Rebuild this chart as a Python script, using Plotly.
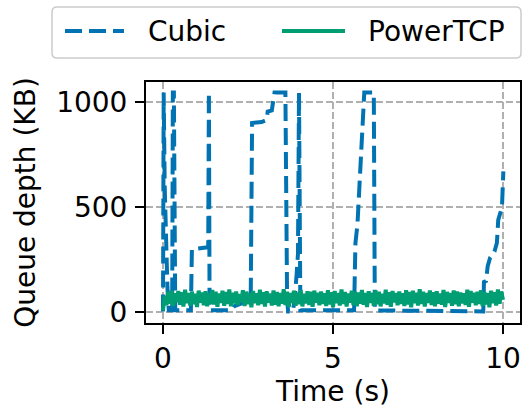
import plotly.graph_objects as go

# ---- data ----
cubic_t = [0.00, 0.02, 0.05, 0.09, 0.13, 0.17, 0.27, 0.29, 0.32, 0.36,
           0.82, 0.85, 1.10, 1.33, 1.35, 1.37, 2.00, 2.10, 2.58, 2.62,
           2.90, 3.05, 3.08, 3.20, 3.28, 3.60, 3.65, 3.68, 3.82, 3.87,
           3.93, 3.97, 4.00, 4.04, 5.62, 5.66, 5.72, 5.80, 5.92, 6.20,
           6.23, 9.42, 9.44, 9.50, 9.55, 9.62, 9.75, 9.82, 9.86, 9.97,
           10.01]
cubic_q = [5, 1045, 600, 300, 120, 10, 10, 1045, 1045, 10,
           10, 300, 305, 310, 1045, 10, 10, 30, 60, 900,
           905, 915, 955, 960, 1045, 1045, 60, 5, 5, 60,
           180, 280, 1045, 10, 10, 330, 420, 700, 1045, 1045,
           10, 5, 145, 150, 220, 260, 290, 330, 440, 500,
           670]

power_t = [i * 0.05 for i in range(201)]
power_q = [
    10, 80, 34, 99, 42, 105, 31, 91, 49, 102,
    37, 96, 28, 108, 44, 93, 33, 100, 40, 89,
    26, 104, 46, 95, 35, 101, 30, 92, 42, 107,
    38, 98, 27, 90, 45, 103, 32, 97, 41, 109,
    29, 94, 43, 100, 36, 88, 48, 106, 31, 99,
    39, 93, 25, 102, 44, 91, 34, 108, 40, 96,
    28, 101, 47, 90, 33, 105, 37, 97, 30, 93,
    42, 110, 35, 99, 26, 92, 45, 103, 32, 95,
    39, 107, 29, 89, 43, 101, 36, 98, 27, 104,
    46, 94, 34, 100, 40, 91, 31, 106, 38, 96,
    25, 102, 44, 93, 33, 109, 41, 97, 28, 90,
    47, 103, 35, 99, 30, 95, 42, 107, 37, 92,
    26, 101, 45, 94, 32, 105, 39, 98, 29, 89,
    43, 108, 36, 96, 27, 102, 48, 93, 34, 100,
    40, 91, 31, 106, 38, 97, 25, 103, 44, 94,
    33, 110, 41, 99, 28, 92, 46, 104, 35, 96,
    30, 101, 42, 90, 37, 107, 26, 98, 45, 93,
    32, 105, 39, 100, 29, 95, 43, 91, 36, 108,
    27, 102, 47, 94, 34, 99, 40, 106, 31, 97,
    38, 92, 25, 103, 44, 96, 33, 109, 41, 100,
    60,
]

series_names = ["Cubic", "PowerTCP"]
x_ticks = [0, 5, 10]
y_ticks = [0, 500, 1000]

BLUE = "#0173b2"
GREEN = "#029e73"
FONT = "DejaVu Sans"

W, H = 523, 411
ML, MR, MT, MB = 146, 3, 82, 88
PW, PH = W - ML - MR, H - MT - MB


def px(xp):
    return (xp - ML) / PW


def py(yp):
    return (H - MB - yp) / PH


fig = go.Figure()
fig.add_trace(go.Scatter(x=cubic_t, y=cubic_q, mode="lines", name=series_names[0],
                         line=dict(color=BLUE, width=4, dash="17px,7px"),
                         showlegend=False))
fig.add_trace(go.Scatter(x=power_t, y=power_q, mode="lines", name=series_names[1],
                         line=dict(color=GREEN, width=4), showlegend=False))

axis_common = dict(
    showline=True, linecolor="black", linewidth=2, mirror=True,
    ticks="outside", ticklen=9, tickwidth=2, tickcolor="black",
    showgrid=True, gridcolor="#b0b0b0", gridwidth=1.6, griddash="7px,3px",
    zeroline=False, tickfont=dict(family=FONT, size=28, color="black"),
    automargin=False,
)

# legend box (matplotlib-style frame above the axes)
bx0, bx1, by0, by1, r = 52, 521, 7, 58, 5
path = (f"M {px(bx0 + r)} {py(by0)} L {px(bx1 - r)} {py(by0)} "
        f"Q {px(bx1)} {py(by0)} {px(bx1)} {py(by0 + r)} "
        f"L {px(bx1)} {py(by1 - r)} Q {px(bx1)} {py(by1)} {px(bx1 - r)} {py(by1)} "
        f"L {px(bx0 + r)} {py(by1)} Q {px(bx0)} {py(by1)} {px(bx0)} {py(by1 - r)} "
        f"L {px(bx0)} {py(by0 + r)} Q {px(bx0)} {py(by0)} {px(bx0 + r)} {py(by0)} Z")
shapes = [
    dict(type="path", path=path, xref="paper", yref="paper",
         line=dict(color="#cccccc", width=1.5), fillcolor="white", layer="above"),
    dict(type="line", xref="paper", yref="paper", x0=px(65), x1=px(124),
         y0=py(31), y1=py(31), line=dict(color=BLUE, width=4, dash="17px,7px")),
    dict(type="line", xref="paper", yref="paper", x0=px(282), x1=px(345),
         y0=py(31), y1=py(31), line=dict(color=GREEN, width=4)),
]
annotations = [
    dict(text=series_names[0], xref="paper", yref="paper", x=px(146), y=py(31),
         xanchor="left", yanchor="middle", showarrow=False,
         font=dict(family=FONT, size=28, color="black")),
    dict(text=series_names[1], xref="paper", yref="paper", x=px(366), y=py(31),
         xanchor="left", yanchor="middle", showarrow=False,
         font=dict(family=FONT, size=28, color="black")),
]

fig.update_layout(
    width=W, height=H,
    margin=dict(l=ML, r=MR, t=MT, b=MB),
    paper_bgcolor="white", plot_bgcolor="white",
    font=dict(family=FONT, size=28, color="black"),
    xaxis=dict(range=[-0.5, 10.5], tickvals=x_ticks,
               title=dict(text="Time (s)", font=dict(size=28), standoff=7),
               **axis_common),
    yaxis=dict(range=[-50, 1095], tickvals=y_ticks, ticklabelstandoff=2,
               title=dict(text="Queue depth (KB)", font=dict(size=28), standoff=12),
               **axis_common),
    shapes=shapes,
    annotations=annotations,
    showlegend=False,
)

fig.write_html("out.html")
